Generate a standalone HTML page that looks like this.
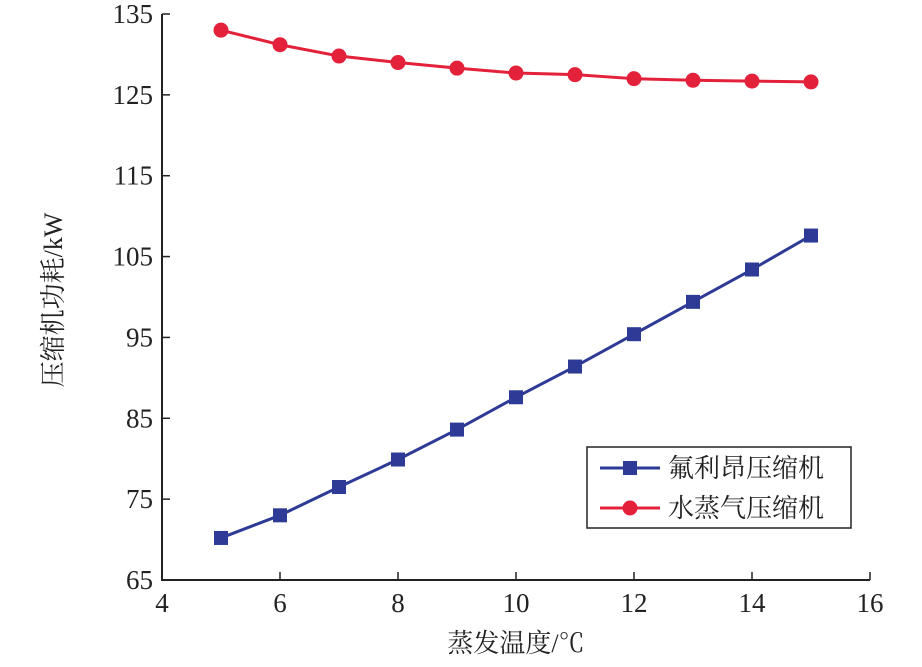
<!DOCTYPE html>
<html><head><meta charset="utf-8"><style>
body{margin:0;background:#fff}
svg text{font-family:"Liberation Serif","Noto Serif CJK SC",serif;fill:#222}
</style></head><body>
<svg id="c" width="922" height="662"></svg>
<script>
const xTicks=[4,6,8,10,12,14,16];
const yTicks=[65,75,85,95,105,115,125,135];
const temps=[5,6,7,8,9,10,11,12,13,14,15];
const freon=[70.2,73.0,76.5,79.9,83.6,87.6,91.4,95.4,99.4,103.4,107.6];
const steam=[133.0,131.2,129.8,129.0,128.3,127.7,127.5,127.0,126.8,126.7,126.6];
const NS='http://www.w3.org/2000/svg';
const svg=document.getElementById('c');
const X=v=>162+(v-4)*(870-162)/12;
const Y=v=>580-(v-65)*(580-14)/70;
function mk(t,a,p){const e=document.createElementNS(NS,t);for(const k in a)e.setAttribute(k,a[k]);(p||svg).appendChild(e);return e;}
let ax=mk('path',{d:`M162,14V580H870`,stroke:'#222','stroke-width':2,fill:'none'});


xTicks.forEach(v=>{
 const t=mk('line',{x1:X(v),x2:X(v),y1:580,y2:572,stroke:'#222','stroke-width':1.5});
 
 
 const l=mk('text',{x:X(v),y:612,'text-anchor':'middle','font-size':27});l.textContent=v;
 
 
});
yTicks.forEach(v=>{
 const t=mk('line',{x1:162,x2:170,y1:Y(v),y2:Y(v),stroke:'#222','stroke-width':1.5});
 
 
 const l=mk('text',{x:153,y:Y(v)+9,'text-anchor':'end','font-size':27});l.textContent=v;
 
 
});
let xt=mk('text',{x:516,y:652,'text-anchor':'middle','font-size':26});xt.textContent='蒸发温度/℃';


let yt=mk('text',{x:62,y:300,'text-anchor':'middle','font-size':26,transform:'rotate(-90 62 300)'});yt.textContent='压缩机功耗/kW';


const B='#2d3b96',R='#e3213b';
let pl=mk('polyline',{points:temps.map((t,i)=>X(t)+','+Y(freon[i])).join(' '),stroke:B,'stroke-width':3,fill:'none'});


let pr=mk('polyline',{points:temps.map((t,i)=>X(t)+','+Y(steam[i])).join(' '),stroke:R,'stroke-width':3,fill:'none'});


temps.forEach((t,i)=>{
 const s=mk('rect',{x:X(t)-7,y:Y(freon[i])-7,width:14,height:14,fill:B});
 
 
 const c=mk('circle',{cx:X(t),cy:Y(steam[i]),r:7.5,fill:R});
 
 
});
let lg=mk('g',{});


mk('rect',{x:587,y:447,width:264,height:81,fill:'#fff',stroke:'#222','stroke-width':1.5},lg);
mk('line',{x1:600,x2:660,y1:468,y2:468,stroke:B,'stroke-width':3},lg);
mk('rect',{x:623,y:461,width:14,height:14,fill:B},lg);
let t1=mk('text',{x:668,y:477,'font-size':26},lg);t1.textContent='氟利昂压缩机';


mk('line',{x1:600,x2:660,y1:508,y2:508,stroke:R,'stroke-width':3},lg);
mk('circle',{cx:630,cy:508,r:7.5,fill:R},lg);
let t2=mk('text',{x:668,y:517,'font-size':26},lg);t2.textContent='水蒸气压缩机';


</script>
</body></html>
